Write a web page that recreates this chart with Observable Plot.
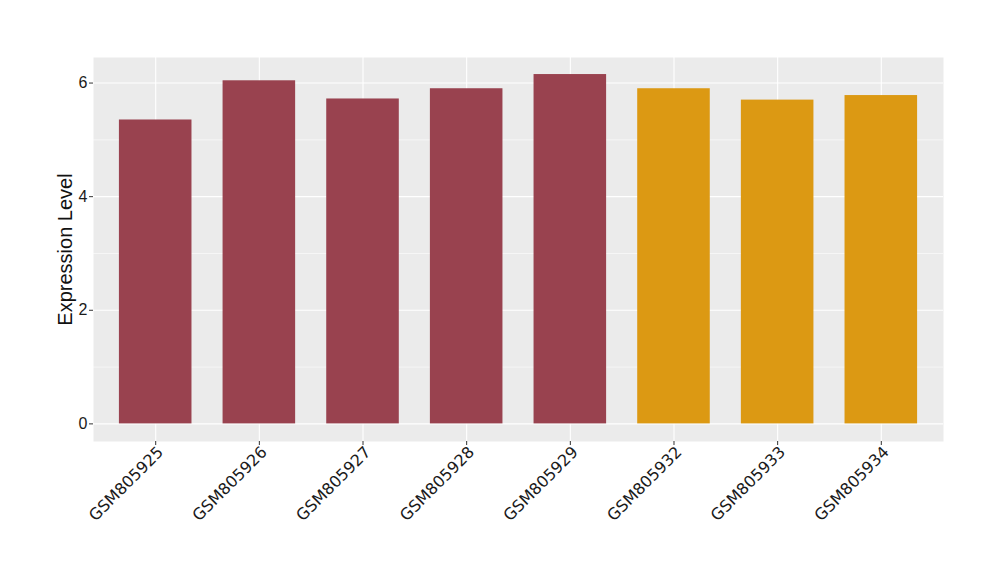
<!DOCTYPE html>
<html>
<head>
<meta charset="utf-8">
<script src="https://cdn.jsdelivr.net/npm/d3@7"></script>
<script src="https://cdn.jsdelivr.net/npm/@observablehq/plot@0.6"></script>
<style>
  html, body { margin: 0; padding: 0; background: #fff; }
  #chart { width: 1000px; height: 580px; }
</style>
</head>
<body>
<div id="chart"></div>
<script>
const samples = ["GSM805925","GSM805926","GSM805927","GSM805928","GSM805929","GSM805932","GSM805933","GSM805934"];
const values = [5.35, 6.04, 5.72, 5.90, 6.15, 5.90, 5.70, 5.78];
const groups = ["A","A","A","A","A","B","B","B"];
const groupColors = ["#99424F", "#DC9913"];
const yTicks = [0, 2, 4, 6];
const yMinor = [1, 3, 5];

const data = samples.map((s, i) => ({sample: s, value: values[i], group: groups[i]}));
const font = "'Liberation Sans', Arial, sans-serif";

const chart = Plot.plot({
  width: 1000,
  height: 580,
  marginLeft: 93,
  marginRight: 57,
  marginTop: 57,
  marginBottom: 139,
  style: {fontFamily: font, background: "white"},
  x: {domain: samples, paddingInner: 0.3, paddingOuter: 0.25, round: false, label: null},
  y: {domain: [-0.31, 6.45], label: null},
  color: {domain: ["A","B"], range: groupColors},
  marks: [
    Plot.frame({fill: "#EBEBEB", stroke: null}),
    Plot.ruleY(yMinor, {stroke: "white", strokeWidth: 0.55}),
    Plot.ruleY(yTicks, {stroke: "white", strokeWidth: 1.1}),
    Plot.gridX({stroke: "white", strokeOpacity: 1, strokeWidth: 1.1}),
    Plot.barY(data, {x: "sample", y: "value", fill: "group"}),
    Plot.axisY({ticks: yTicks, tickFormat: d => String(d), tickSize: 4, tickPadding: 2, stroke: "#333", fontSize: 16, color: "#1a1a1a", label: null}),
    Plot.axisX({tickSize: 4, text: null, stroke: "#333", label: null}),
    Plot.axisX({tickSize: 0, tickPadding: 7, fontSize: 16, fontFamily: "'DejaVu Sans', sans-serif", color: "#1a1a1a", tickRotate: -45, dx: 5, dy: 1, label: null}),
    Plot.text(["Expression Level"], {frameAnchor: "left", textAnchor: "middle", rotate: -90, dx: -28, fontSize: 20, fill: "#111", fontFamily: font})
  ]
});
document.getElementById("chart").appendChild(chart);
</script>
</body>
</html>
